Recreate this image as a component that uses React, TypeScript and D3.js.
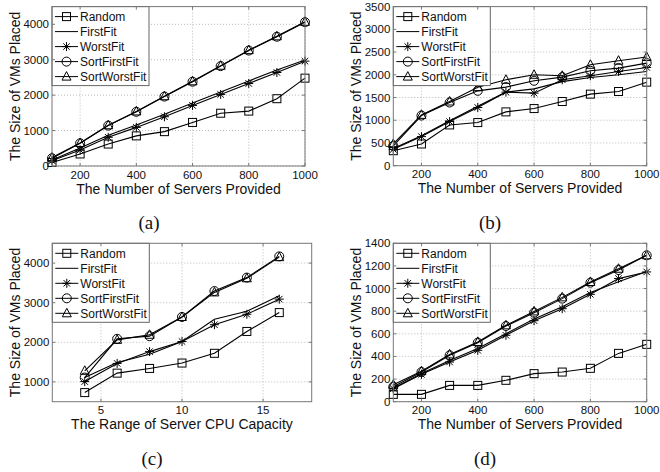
import React from "react";
import * as d3 from "d3";

// Four line charts: size of VMs placed by five placement strategies.
const SERVERS = [100, 200, 300, 400, 500, 600, 700, 800, 900, 1000];
const CPU_RANGE = [4, 6, 8, 10, 12, 14, 16];
const NAMES = ["Random", "FirstFit", "WorstFit", "SortFirstFit", "SortWorstFit"];

// (a)
const A_RANDOM = [100, 340, 620, 850, 970, 1230, 1490, 1550, 1900, 2480];
const A_FIRSTFIT = [170, 510, 870, 1160, 1460, 1780, 2090, 2400, 2710, 2990];
const A_WORSTFIT = [150, 450, 810, 1090, 1390, 1710, 2020, 2330, 2640, 2960];
const A_SORTFIRST = [220, 640, 1140, 1530, 1960, 2380, 2820, 3260, 3650, 4060];
const A_SORTWORST = [240, 650, 1150, 1540, 1970, 2390, 2830, 3270, 3660, 4070];

// (b)
const B_RANDOM = [330, 478, 897, 949, 1184, 1257, 1412, 1574, 1632, 1838];
const B_FIRSTFIT = [380, 660, 990, 1310, 1620, 1690, 1850, 1940, 2000, 2074];
const B_WORSTFIT = [360, 640, 970, 1280, 1618, 1596, 1890, 1978, 2074, 2162];
const B_SORTFIRST = [434, 1103, 1390, 1647, 1728, 1868, 1949, 2088, 2147, 2257];
const B_SORTWORST = [478, 1118, 1412, 1728, 1890, 2000, 1978, 2220, 2310, 2390];

// (c)
const C_RANDOM = [730, 1221, 1340, 1476, 1722, 2274, 2750];
const C_FIRSTFIT = [1110, 1490, 1700, 2020, 2580, 2784, 3175];
const C_WORSTFIT = [1008, 1467, 1765, 2020, 2444, 2708, 3090];
const C_SORTFIRST = [1110, 2088, 2155, 2640, 3294, 3634, 4170];
const C_SORTWORST = [1280, 2062, 2190, 2640, 3260, 3617, 4150];

// (d)
const D_RANDOM = [65, 65, 144, 144, 189, 248, 262, 295, 427, 507];
const D_FIRSTFIT = [120, 250, 365, 470, 600, 730, 840, 965, 1060, 1150];
const D_WORSTFIT = [115, 242, 351, 454, 587, 716, 822, 949, 1088, 1147];
const D_SORTFIRST = [133, 262, 410, 522, 669, 787, 911, 1052, 1164, 1294];
const D_SORTWORST = [150, 270, 418, 528, 675, 798, 922, 1058, 1175, 1294];

const SERVER_TICKS = [200, 400, 600, 800, 1000];
const CPU_TICKS = [5, 10, 15];
const MARKERS = ["square", "none", "star", "circle", "triangle"];

const FONT = "Arial, 'Liberation Sans', Helvetica, sans-serif";

function Marker({ kind, x, y }: { kind: string; x: number; y: number }) {
  const s = 4.5;
  if (kind === "square")
    return <rect x={x - 4} y={y - 4} width={8} height={8} fill="none" stroke="#000" />;
  if (kind === "circle") return <circle cx={x} cy={y} r={s} fill="none" stroke="#000" />;
  if (kind === "triangle")
    return (
      <path
        d={`M${x},${y - s - 0.5}L${x + s},${y + s - 1}L${x - s},${y + s - 1}Z`}
        fill="none"
        stroke="#000"
      />
    );
  if (kind === "star") {
    const d = s * 0.72;
    return (
      <path
        d={`M${x - s},${y}H${x + s}M${x},${y - s}V${y + s}M${x - d},${y - d}L${x + d},${y + d}M${x - d},${y + d}L${x + d},${y - d}`}
        stroke="#000"
        fill="none"
      />
    );
  }
  return null;
}

type PanelProps = {
  left: number;
  right: number;
  top: number;
  bottom: number;
  xs: number[];
  xDomain: [number, number];
  yDomain: [number, number];
  xTicks: number[];
  yStep: number;
  xLabel: string;
  caption: string;
  series: number[][];
  captionX: number;
};

function Panel(p: PanelProps) {
  const x = d3.scaleLinear().domain(p.xDomain).range([p.left, p.right]);
  const y = d3.scaleLinear().domain(p.yDomain).range([p.bottom, p.top]);
  const yTickVals = d3.range(Math.ceil(p.yDomain[0] / p.yStep) * p.yStep, p.yDomain[1] + 1, p.yStep);
  const line = d3
    .line<number>()
    .x((_, i) => x(p.xs[i]))
    .y((d) => y(d));
  const lx = p.left;
  const ly = p.top;
  return (
    <g>
      {/* grid */}
      {p.xTicks.map((t) => (
        <line key={"gx" + t} x1={x(t)} x2={x(t)} y1={p.top} y2={p.bottom} stroke="#bbb" strokeDasharray="1,2" />
      ))}
      {yTickVals.map((t) => (
        <line key={"gy" + t} x1={p.left} x2={p.right} y1={y(t)} y2={y(t)} stroke="#bbb" strokeDasharray="1,2" />
      ))}
      {/* series */}
      {p.series.map((s, k) => (
        <g key={"s" + k}>
          <path d={line(s) || ""} fill="none" stroke="#000" strokeWidth={1.1} />
          {s.map((v, i) => (
            <Marker key={i} kind={MARKERS[k]} x={x(p.xs[i])} y={y(v)} />
          ))}
        </g>
      ))}
      {/* legend */}
      <rect x={lx} y={ly} width={97} height={79} fill="#fff" stroke="#666" />
      {NAMES.map((n, i) => {
        const cy = ly + 10 + 15 * i;
        return (
          <g key={n}>
            <line x1={lx + 3} x2={lx + 26} y1={cy} y2={cy} stroke="#000" />
            <Marker kind={MARKERS[i]} x={lx + 14.5} y={cy} />
            <text x={lx + 28} y={cy + 4.3} fontSize={12} fontFamily={FONT} fill="#111">
              {n}
            </text>
          </g>
        );
      })}
      {/* axes box */}
      <rect x={p.left} y={p.top} width={p.right - p.left} height={p.bottom - p.top} fill="none" stroke="#777" />
      {p.xTicks.map((t) => (
        <g key={"tx" + t}>
          <line x1={x(t)} x2={x(t)} y1={p.bottom} y2={p.bottom - 3} stroke="#777" />
          <line x1={x(t)} x2={x(t)} y1={p.top} y2={p.top + 3} stroke="#777" />
          <text x={x(t)} y={p.bottom + 12.5} textAnchor="middle" fontSize={11.5} fontFamily={FONT} fill="#111">
            {t}
          </text>
        </g>
      ))}
      {yTickVals.map((t) => (
        <g key={"ty" + t}>
          <line x1={p.left} x2={p.left + 3} y1={y(t)} y2={y(t)} stroke="#777" />
          <line x1={p.right} x2={p.right - 3} y1={y(t)} y2={y(t)} stroke="#777" />
          <text x={p.left - 3} y={y(t) + 4} textAnchor="end" fontSize={11.5} fontFamily={FONT} fill="#111">
            {t}
          </text>
        </g>
      ))}
      <text
        x={(p.left + p.right) / 2}
        y={p.bottom + 27.5}
        textAnchor="middle"
        fontSize={14}
        fontFamily={FONT}
        fill="#111"
      >
        {p.xLabel}
      </text>
      <text
        transform={`translate(${p.left - 32},${(p.top + p.bottom) / 2}) rotate(-90)`}
        textAnchor="middle"
        fontSize={14}
        fontFamily={FONT}
        fill="#111"
      >
        The Size of VMs Placed
      </text>
      <text x={p.captionX} y={p.bottom + 63} textAnchor="middle" fontSize={19} fontFamily="'Liberation Serif', 'Times New Roman', serif" fill="#111">
        {p.caption}
      </text>
    </g>
  );
}

export default function App() {
  const serversLabel = "The Number of Servers Provided";
  return (
    <div style={{ position: "absolute", left: 0, top: 0 }}>
      <svg width={660} height={472} style={{ display: "block", background: "#fff" }}>
        <Panel
          left={52}
          right={305}
          top={6.6}
          bottom={166}
          xs={SERVERS}
          xDomain={[100, 1000]}
          yDomain={[0, 4500]}
          xTicks={SERVER_TICKS}
          yStep={1000}
          xLabel={serversLabel}
          caption="(a)"
          captionX={149}
          series={[A_RANDOM, A_FIRSTFIT, A_WORSTFIT, A_SORTFIRST, A_SORTWORST]}
        />
        <Panel
          left={393.3}
          right={646.7}
          top={6.6}
          bottom={165.7}
          xs={SERVERS}
          xDomain={[100, 1000]}
          yDomain={[0, 3500]}
          xTicks={SERVER_TICKS}
          yStep={500}
          xLabel={serversLabel}
          caption="(b)"
          captionX={490}
          series={[B_RANDOM, B_FIRSTFIT, B_WORSTFIT, B_SORTFIRST, B_SORTWORST]}
        />
        <Panel
          left={52.3}
          right={311.7}
          top={243.3}
          bottom={401.7}
          xs={CPU_RANGE}
          xDomain={[2, 18]}
          yDomain={[500, 4500]}
          xTicks={CPU_TICKS}
          yStep={1000}
          xLabel="The Range of Server CPU Capacity"
          caption="(c)"
          captionX={152}
          series={[C_RANDOM, C_FIRSTFIT, C_WORSTFIT, C_SORTFIRST, C_SORTWORST]}
        />
        <Panel
          left={393.3}
          right={646.7}
          top={243.3}
          bottom={401.7}
          xs={SERVERS}
          xDomain={[100, 1000]}
          yDomain={[0, 1400]}
          xTicks={SERVER_TICKS}
          yStep={200}
          xLabel={serversLabel}
          caption="(d)"
          captionX={485}
          series={[D_RANDOM, D_FIRSTFIT, D_WORSTFIT, D_SORTFIRST, D_SORTWORST]}
        />
      </svg>
    </div>
  );
}
